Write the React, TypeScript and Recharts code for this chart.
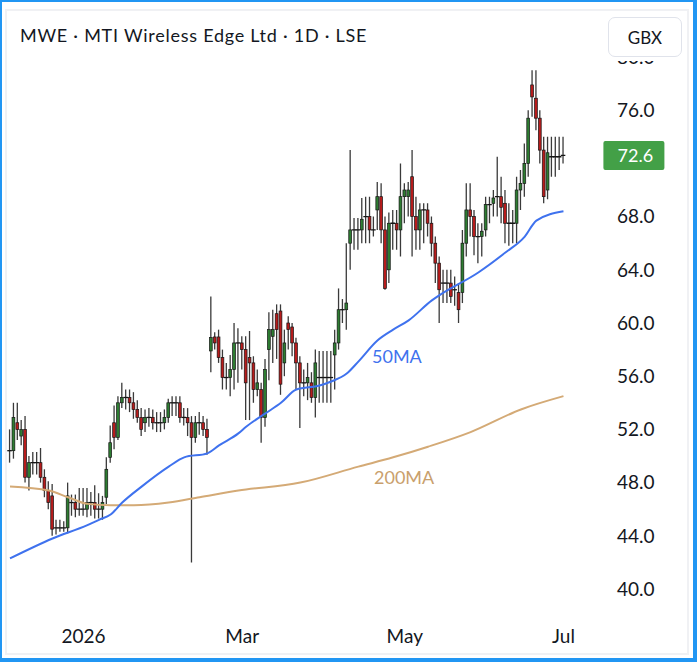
import { ComposedChart, Bar, Line, XAxis, YAxis, ReferenceLine } from 'recharts'

// OHLC, one entry per trading day
const opens = [
  50.4, 50.4, 52.5, 51.5, 52.0, 48.4, 49.5, 49.5, 49.5, 48.4, 47.4, 47.0, 44.6, 44.6, 44.6, 44.6,
  46.5, 46.5, 46.0, 46.0, 46.0, 46.5, 46.5, 46.0, 46.0, 46.9, 49.9, 52.5, 51.4, 54.0, 54.4, 54.4,
  54.0, 53.5, 52.9, 52.5, 52.9, 52.9, 52.5, 52.5, 52.5, 52.9, 54.0, 54.0, 54.0, 52.9, 52.9, 52.5,
  51.4, 52.5, 52.5, 52.0, 57.9, 58.95, 58.95, 57.4, 55.9, 55.9, 56.5, 58.5, 58.5, 58.0, 57.4, 57.0,
  55.0, 55.0, 52.9, 58.0, 59.0, 60.7, 60.9, 57.0, 60.0, 59.7, 58.5, 57.0, 55.5, 55.5, 55.5, 54.4,
  55.9, 55.9, 55.9, 55.9, 57.6, 58.5, 61.0, 61.0, 66.0, 67.0, 67.0, 67.0, 68.0, 68.0, 67.0, 68.5,
  69.5, 67.0, 64.0, 67.5, 67.5, 67.0, 69.5, 69.5, 71.0, 68.0, 67.0, 68.5, 68.5, 67.5, 66.0, 64.5,
  63.0, 63.0, 63.0, 62.5, 62.3, 62.3, 66.0, 68.5, 68.0, 66.5, 66.5, 67.0, 68.9, 69.0, 69.5, 69.5,
  69.0, 67.5, 67.5, 67.5, 70.0, 70.5, 72.0, 77.9, 76.9, 75.4, 73.0, 70.0, 72.5, 72.5, 72.5, 72.6,
]
const highs = [
  52.0, 54.0, 54.0, 52.7, 53.0, 50.0, 50.3, 50.3, 50.6, 49.0, 48.1, 47.9, 45.2, 45.2, 45.1, 48.0,
  47.1, 47.1, 47.6, 47.6, 47.6, 47.3, 47.8, 47.2, 47.0, 49.9, 52.3, 53.8, 54.5, 55.5, 55.0, 55.0,
  54.8, 54.2, 53.6, 53.5, 53.6, 53.5, 53.3, 53.3, 53.5, 54.3, 54.5, 54.5, 54.5, 53.6, 53.6, 53.0,
  53.0, 53.3, 53.0, 52.8, 62.0, 59.3, 59.5, 58.0, 57.0, 57.6, 60.0, 59.6, 59.0, 59.0, 59.4, 57.5,
  56.5, 55.5, 57.3, 60.8, 61.0, 61.4, 61.4, 59.5, 60.5, 60.0, 58.9, 57.5, 56.5, 57.0, 56.3, 58.0,
  57.9, 57.9, 57.9, 57.9, 59.5, 62.6, 61.8, 66.0, 73.0, 67.9, 67.9, 69.4, 69.5, 69.5, 68.0, 70.6,
  70.5, 68.0, 68.3, 68.5, 68.5, 72.0, 70.5, 70.6, 73.0, 69.5, 69.0, 69.0, 69.0, 68.0, 66.5, 65.0,
  64.0, 64.0, 64.0, 63.5, 63.0, 67.0, 70.5, 70.5, 68.5, 67.5, 67.5, 69.5, 69.5, 70.0, 72.5, 71.0,
  70.0, 69.0, 68.5, 71.0, 71.5, 73.5, 76.0, 79.0, 79.0, 76.0, 74.0, 74.0, 74.0, 74.0, 74.0, 74.0,
]
const lows = [
  49.5, 49.8, 51.2, 50.8, 48.0, 47.4, 48.6, 48.6, 48.0, 46.9, 46.0, 44.0, 44.1, 44.3, 44.3, 44.2,
  45.5, 45.4, 45.5, 45.5, 45.4, 45.5, 45.3, 45.3, 45.2, 46.4, 49.5, 50.5, 51.2, 53.6, 53.5, 53.3,
  52.8, 52.5, 51.5, 51.8, 52.2, 52.0, 51.8, 51.8, 52.0, 52.5, 53.0, 53.0, 52.5, 52.3, 51.5, 42.0,
  51.0, 51.6, 51.5, 50.1, 56.3, 58.0, 57.0, 55.0, 55.0, 54.5, 55.0, 55.5, 56.5, 52.7, 52.7, 54.0,
  54.5, 51.0, 52.2, 55.7, 57.0, 57.3, 54.6, 56.0, 58.0, 57.5, 55.0, 52.1, 54.5, 54.2, 54.0, 52.9,
  54.0, 54.0, 54.0, 54.0, 55.0, 58.0, 60.0, 59.5, 64.0, 65.5, 65.5, 66.0, 66.0, 66.0, 66.5, 67.0,
  66.0, 62.5, 63.0, 65.5, 65.5, 65.0, 67.5, 68.0, 65.0, 65.5, 65.5, 66.0, 66.5, 65.0, 63.0, 60.0,
  61.5, 61.5, 61.5, 61.3, 60.0, 61.5, 65.0, 66.5, 65.1, 64.5, 65.0, 66.5, 67.5, 68.0, 68.0, 67.5,
  66.0, 65.8, 66.0, 66.0, 68.5, 69.5, 71.0, 75.5, 74.5, 72.0, 69.0, 69.3, 71.0, 71.0, 71.5, 72.0,
]
const closes = [
  50.4, 52.9, 52.0, 52.0, 48.4, 49.5, 49.5, 49.5, 48.4, 47.4, 46.5, 44.5, 44.6, 44.6, 44.6, 47.0,
  46.5, 46.0, 46.0, 46.0, 46.5, 46.5, 46.0, 46.0, 46.5, 49.0, 51.0, 51.4, 54.0, 54.4, 54.4, 54.0,
  53.5, 52.9, 52.0, 52.9, 52.9, 52.5, 52.5, 52.5, 52.9, 54.0, 54.0, 54.0, 52.9, 52.9, 52.5, 51.4,
  52.5, 52.5, 52.0, 51.4, 58.9, 58.5, 57.4, 55.9, 55.9, 56.5, 58.5, 58.5, 58.0, 55.5, 57.0, 55.0,
  55.5, 52.9, 56.5, 59.5, 59.5, 59.5, 55.4, 58.5, 59.5, 58.5, 57.0, 55.5, 55.5, 55.9, 54.4, 57.0,
  55.9, 55.9, 55.9, 55.9, 58.5, 61.0, 61.0, 61.5, 67.0, 67.0, 67.0, 67.8, 68.0, 67.0, 67.0, 69.5,
  67.0, 62.6, 67.5, 67.5, 67.0, 69.5, 70.0, 70.0, 68.0, 67.0, 68.5, 68.5, 67.5, 66.0, 64.5, 62.5,
  63.0, 63.0, 62.0, 62.5, 61.0, 66.0, 68.5, 68.0, 66.5, 66.5, 66.9, 68.9, 68.9, 69.4, 69.5, 68.7,
  67.5, 67.5, 67.5, 70.0, 70.5, 72.0, 75.4, 77.0, 75.4, 73.0, 69.5, 72.8, 72.5, 72.5, 72.5, 72.6,
]

// moving averages, read at a few bars: [bar index, value]
const ma50Points: [number, number][] = [
  [0, 42.3], [11, 43.8], [20, 44.8], [23, 45.2], [26, 45.6], [29, 46.5], [34, 47.7], [41, 49.2],
  [45, 49.9], [51, 50.2], [54, 50.8], [59, 51.7], [61, 52.2], [66, 53.2], [70, 54.0], [74, 55.0],
  [80, 55.3], [83, 55.6], [87, 56.2], [90, 57.1], [95, 58.7], [99, 59.5], [103, 60.2], [109, 61.7],
  [111, 62.1], [121, 63.8], [128, 65.3], [133, 66.5], [136, 67.7], [143, 68.4],
]
const ma200Points: [number, number][] = [
  [0, 47.7], [10, 47.4], [15, 46.9], [20, 46.4], [26, 46.3], [32, 46.3], [41, 46.5], [49, 46.9],
  [59, 47.4], [75, 48.0], [90, 49.2], [99, 49.9], [108, 50.7], [119, 51.8], [132, 53.5], [143, 54.5],
]

const xTickIndex = [19, 60, 102, 143]
const xTickLabels = ['2026', 'Mar', 'May', 'Jul']
const yTicks = [40, 44, 48, 52, 56, 60, 64, 68, 76, 80]

const UP = '#2e7d32'
const DOWN = '#b71c1c'
const TEXT = '#131722'
const FONT = 'Lato, "Noto Sans", sans-serif'

const data = opens.map((open, i) => ({
  i,
  open,
  high: highs[i],
  low: lows[i],
  close: closes[i],
  range: [lows[i], highs[i]],
  ma50: ma50Points.find(p => p[0] === i)?.[1] ?? null,
  ma200: ma200Points.find(p => p[0] === i)?.[1] ?? null,
}))

const lastClose = closes[closes.length - 1]

function Candle(props: any) {
  const { x, y, width, height, payload } = props
  if (!payload) return null
  const { open, close, high, low } = payload
  const top = Math.min(y, y + height)
  const k = Math.abs(height) / (high - low)
  const py = (v: number) => top + (high - v) * k
  const cx = x + width / 2
  const bodyTop = py(Math.max(open, close))
  const bodyBottom = py(Math.min(open, close))
  const flat = bodyBottom - bodyTop < 1.2
  return (
    <g>
      <line x1={cx} x2={cx} y1={py(high)} y2={py(low)} stroke="#3a3a3a" strokeWidth={1.3} />
      {flat ? (
        <line x1={cx - 2.3} x2={cx + 2.3} y1={bodyTop} y2={bodyTop} stroke="#151515" strokeWidth={1.3} />
      ) : (
        <rect
          x={cx - 1.4}
          y={bodyTop}
          width={2.8}
          height={bodyBottom - bodyTop}
          fill={close >= open ? UP : DOWN}
          stroke="#151515"
          strokeWidth={0.7}
        />
      )}
    </g>
  )
}

function PriceTag({ viewBox }: any) {
  if (!viewBox) return null
  const left = viewBox.x + viewBox.width + 38
  return (
    <g>
      <rect x={left} y={viewBox.y - 14.5} width={61} height={29} rx={2} fill="#43a047" />
      <text x={left + 32} y={viewBox.y} dy="0.36em" textAnchor="middle" fill="#fff" fontSize={18} fontFamily={FONT}>
        {lastClose.toFixed(1)}
      </text>
    </g>
  )
}

export default function App() {
  return (
    <div style={{ position: 'absolute', left: 0, top: 0, width: 697, height: 662, background: '#fff', fontFamily: FONT, overflow: 'hidden' }}>
      <ComposedChart width={697} height={662} data={data} margin={{ top: 43.7, right: 0, bottom: 16.4, left: 8.07 }}>
        <XAxis
          dataKey="i"
          type="category"
          ticks={xTickIndex}
          interval={0}
          height={30}
          axisLine={false}
          tickLine={false}
          tickSize={0}
          tickMargin={13.6}
          tick={{ fontSize: 19, fill: TEXT, fontFamily: FONT }}
          tickFormatter={(v: number) => xTickLabels[xTickIndex.indexOf(v)] ?? ''}
        />
        <YAxis
          orientation="right"
          type="number"
          domain={[38, 81]}
          allowDataOverflow
          ticks={yTicks}
          interval={0}
          width={131.6}
          axisLine={false}
          tickLine={false}
          tickSize={0}
          tickMargin={51.6}
          tick={{ fontSize: 19, fill: TEXT, fontFamily: FONT }}
          tickFormatter={(v: number) => v.toFixed(1)}
        />
        <Bar dataKey="range" barSize={3} shape={<Candle />} isAnimationActive={false} />
        <Line type="monotone" dataKey="ma200" stroke="#d4aa76" strokeWidth={2} dot={false} connectNulls isAnimationActive={false} />
        <Line type="monotone" dataKey="ma50" stroke="#3f72ee" strokeWidth={2} dot={false} connectNulls isAnimationActive={false} />
        <ReferenceLine y={lastClose} stroke="none" label={<PriceTag />} />
      </ComposedChart>

      <div style={{ position: 'absolute', left: 20, top: 22, fontSize: 18, letterSpacing: 0.75, color: TEXT, whiteSpace: 'nowrap', lineHeight: '26px' }}>
        MWE · MTI Wireless Edge Ltd · 1D · LSE
      </div>
      <div style={{ position: 'absolute', left: 372, top: 343, fontSize: 18, color: '#3f72ee', lineHeight: '26px' }}>50MA</div>
      <div style={{ position: 'absolute', left: 374, top: 464, fontSize: 18, color: '#c9a06c', lineHeight: '26px' }}>200MA</div>

      {/* price scale header hides most of the top tick */}
      <div style={{ position: 'absolute', left: 600, top: 0, width: 92, height: 61, background: '#fff' }} />
      <div style={{ position: 'absolute', left: 608, top: 17, width: 74, height: 40, boxSizing: 'border-box', border: '1px solid #e0e3eb', borderRadius: 7, background: '#fff', display: 'flex', alignItems: 'center', justifyContent: 'center', fontSize: 17, color: TEXT }}>
        GBX
      </div>

      <div style={{ position: 'absolute', left: 5, top: 9, right: 8, bottom: 7, border: '2px solid #f0f1f4', pointerEvents: 'none' }} />
      <div style={{ position: 'absolute', inset: 0, borderStyle: 'solid', borderColor: '#2196f3', borderWidth: '2px 4px 4px 2px', pointerEvents: 'none' }} />
    </div>
  )
}
